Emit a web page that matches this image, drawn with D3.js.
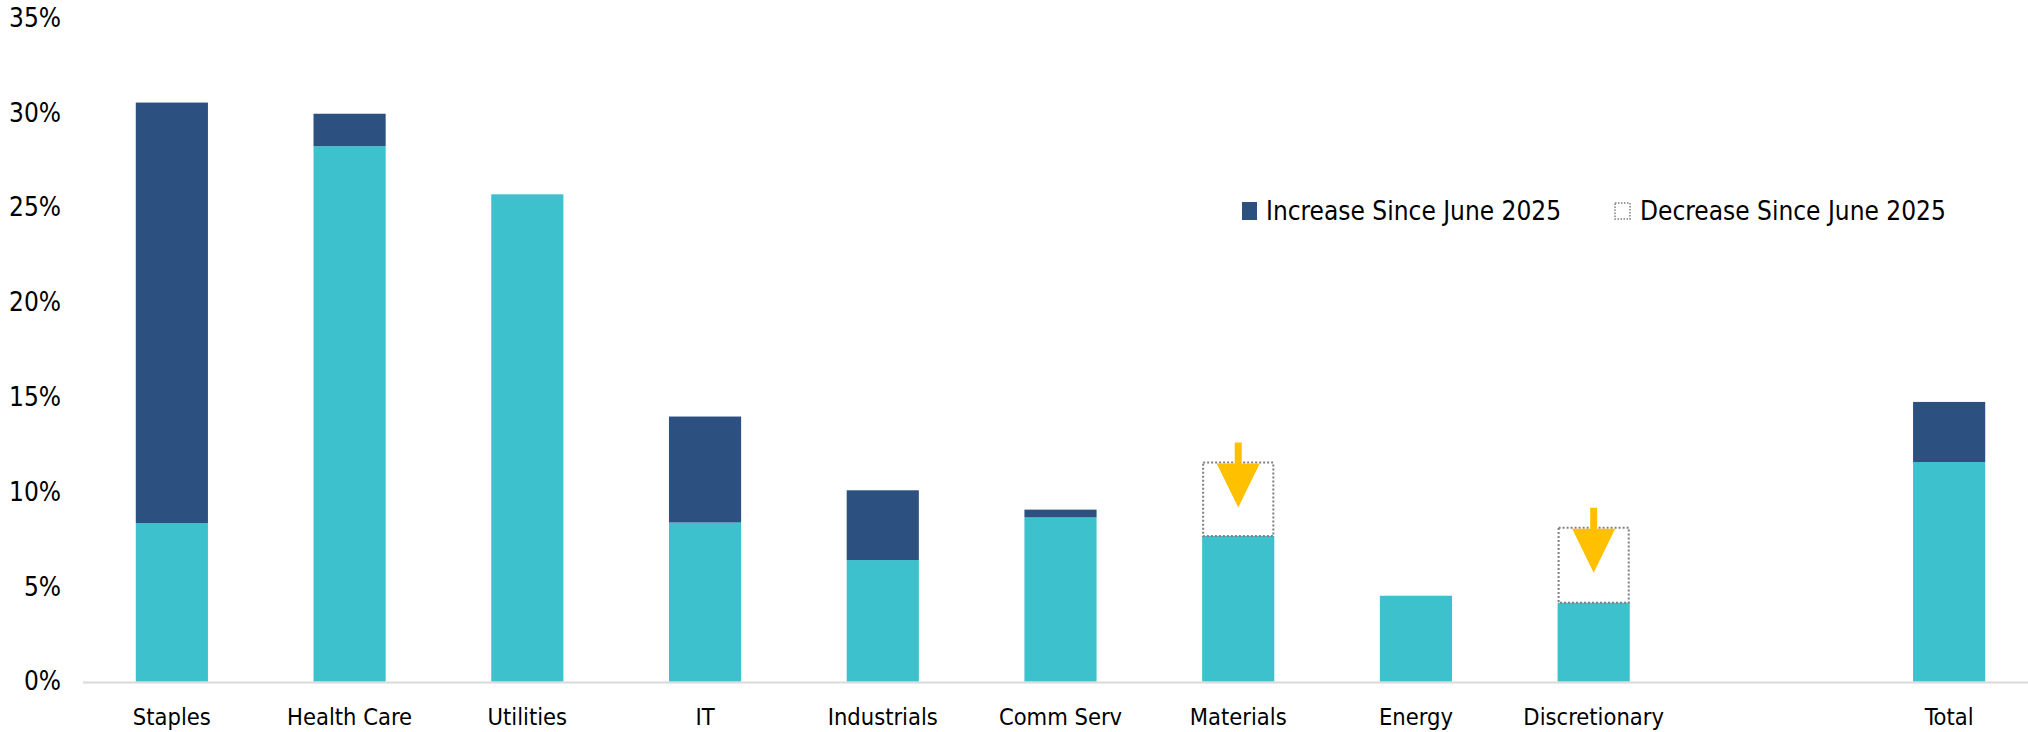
<!DOCTYPE html>
<html>
<head>
<meta charset="utf-8">
<script src="https://cdn.jsdelivr.net/npm/d3@7"></script>
<style>
  body { margin: 0; background: #fff; }
  #chart text { font-family: "Liberation Sans Narrow", "DejaVu Sans Condensed", "Liberation Sans", sans-serif; fill: #000; }
</style>
</head>
<body>
<div id="chart"></div>
<script>
// data (percent)
var categories = ["Staples", "Health Care", "Utilities", "IT", "Industrials", "Comm Serv", "Materials", "Energy", "Discretionary", "Total"];
var current  = [8.36, 28.24, 25.7, 8.39, 6.41, 8.66, 7.68, 4.53, 4.16, 11.58];
var increase = [22.18, 1.71, 0, 5.59, 3.68, 0.41, 0, 0, 0, 3.17];
var decrease = [0, 0, 0, 0, 0, 0, 3.87, 0, 3.96, 0];
var yTicks = [0, 5, 10, 15, 20, 25, 30, 35];
var legendLabels = ["Increase Since June 2025", "Decrease Since June 2025"];

var width = 2028, height = 732;
var teal = "#3DC1CC", navy = "#2C5180", gold = "#FFC000";

var svg = d3.select("#chart").append("svg")
    .attr("width", width)
    .attr("height", height);

// blank slot between Discretionary and Total
var slots = categories.slice(0, 9).concat(["_gap"], categories.slice(9));

var x = d3.scaleBand()
    .domain(slots)
    .range([83, 2038])
    .paddingInner(0.594)
    .paddingOuter(0.297);

var y = d3.scaleLinear().domain([0, 35]).range([681.6, 18]);

var data = categories.map(function(c, i) {
    return { cat: c, cur: current[i], inc: increase[i], dec: decrease[i] };
});

// y axis labels (no line, no ticks)
var yAxis = svg.append("g")
    .attr("transform", "translate(61,0)")
    .call(d3.axisLeft(y).tickValues(yTicks).tickSize(0).tickPadding(0)
        .tickFormat(function(d) { return d + "%"; }));
yAxis.select(".domain").remove();
yAxis.selectAll("text").style("font-size", "26px");

// current level
svg.append("g").selectAll("rect")
    .data(data)
    .enter().append("rect")
    .attr("x", function(d) { return x(d.cat); })
    .attr("width", x.bandwidth())
    .attr("y", function(d) { return y(d.cur); })
    .attr("height", function(d) { return y(0) - y(d.cur); })
    .attr("fill", teal);

// increase since June 2025
svg.append("g").selectAll("rect")
    .data(data.filter(function(d) { return d.inc > 0; }))
    .enter().append("rect")
    .attr("x", function(d) { return x(d.cat); })
    .attr("width", x.bandwidth())
    .attr("y", function(d) { return y(d.cur + d.inc); })
    .attr("height", function(d) { return y(d.cur) - y(d.cur + d.inc); })
    .attr("fill", navy);

// decrease since June 2025 (dotted outline)
var decs = data.filter(function(d) { return d.dec > 0; });
svg.append("g").selectAll("rect")
    .data(decs)
    .enter().append("rect")
    .attr("x", function(d) { return x(d.cat) + 1; })
    .attr("width", x.bandwidth() - 2)
    .attr("y", function(d) { return y(d.cur + d.dec); })
    .attr("height", function(d) { return y(d.cur) - y(d.cur + d.dec); })
    .attr("fill", "none")
    .attr("stroke", "#808080")
    .attr("stroke-width", 2)
    .attr("stroke-dasharray", "2,2");

// down arrows
svg.append("g").selectAll("path")
    .data(decs)
    .enter().append("path")
    .attr("fill", gold)
    .attr("d", function(d) {
        var cx = x(d.cat) + x.bandwidth() / 2;
        var t = y(d.cur + d.dec);
        var top = t - 20, neck = t + 1, tip = t + 45;
        return "M" + (cx - 3.5) + "," + top + "H" + (cx + 3.5) + "V" + neck +
            "H" + (cx + 21.5) + "L" + cx + "," + tip + "L" + (cx - 21.5) + "," + neck +
            "H" + (cx - 3.5) + "Z";
    });

// x axis
svg.append("line")
    .attr("x1", 83).attr("x2", width)
    .attr("y1", y(0) + 1).attr("y2", y(0) + 1)
    .attr("stroke", "#D9D9D9")
    .attr("stroke-width", 2);

svg.append("g").selectAll("text")
    .data(categories)
    .enter().append("text")
    .attr("x", function(d) { return x(d) + x.bandwidth() / 2; })
    .attr("y", 725)
    .attr("text-anchor", "middle")
    .style("font-size", "23.5px")
    .text(function(d) { return d; });

// legend
var legend = svg.append("g");
legend.append("rect")
    .attr("x", 1242).attr("y", 202).attr("width", 15).attr("height", 18)
    .attr("fill", navy);
legend.append("text")
    .attr("x", 1266).attr("y", 220)
    .style("font-size", "26px")
    .text(legendLabels[0]);
legend.append("rect")
    .attr("x", 1615).attr("y", 203).attr("width", 15).attr("height", 16)
    .attr("fill", "none")
    .attr("stroke", "#808080")
    .attr("stroke-width", 1.5)
    .attr("stroke-dasharray", "1.5,1.5");
legend.append("text")
    .attr("x", 1640).attr("y", 220)
    .style("font-size", "26px")
    .text(legendLabels[1]);
</script>
</body>
</html>
